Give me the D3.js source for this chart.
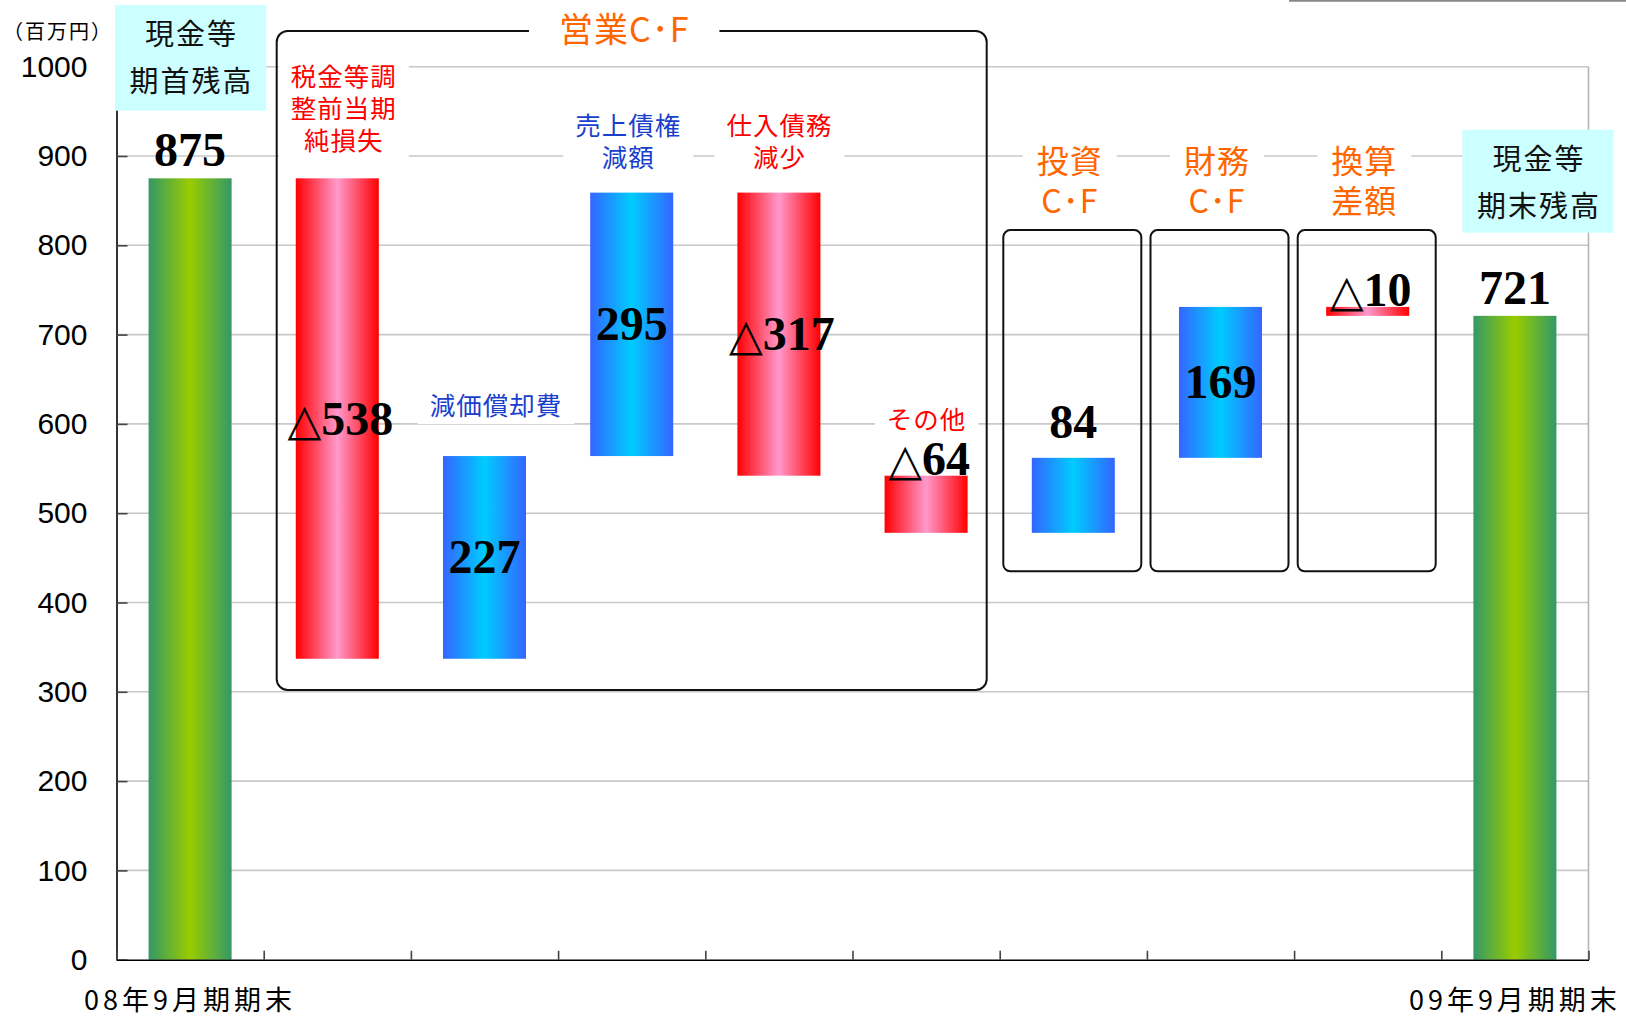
<!DOCTYPE html>
<html>
<head>
<meta charset="utf-8">
<script src="https://cdn.jsdelivr.net/npm/d3@7"></script>
<style>
  body { margin: 0; background: #fff; }
  svg { display: block; }
</style>
</head>
<body>
<svg id="chart"></svg>
<script>
// data (百万円)
const categories = ["08年9月期期末", "税金等調整前当期純損失", "減価償却費", "売上債権減額", "仕入債務減少", "その他", "投資C･F", "財務C･F", "換算差額", "09年9月期期末"];
const openingBalance = 875;
const cashFlows = [-538, 227, 295, -317, -64, 84, 169, -10];
const closingBalance = 721;
const yTicks = [0, 100, 200, 300, 400, 500, 600, 700, 800, 900, 1000];
const xTickLabels = ["08年9月期期末", "", "", "", "", "", "", "", "", "09年9月期期末"];
const itemLabels = [null, ["税金等調", "整前当期", "純損失"], ["減価償却費"], ["売上債権", "減額"], ["仕入債務", "減少"], ["その他"], null, null, null, null];
const operatingTitle = "営業C･F";
const groupTitles = [["投資", "C･F"], ["財務", "C･F"], ["換算", "差額"]];
const groupIndex = [6, 7, 8];
const balanceLabels = [["現金等", "期首残高"], ["現金等", "期末残高"]];

const width = 1626;
const height = 1016;
const marginLeft = 116.5;
const marginRight = 37.5;
const marginTop = 66.7;
const marginBottom = 56.3;

const svg = d3.select("#chart").attr("width", width).attr("height", height);

// build waterfall rows
let running = openingBalance;
const rows = [{ i: 0, y0: 0, y1: openingBalance, value: openingBalance, type: "total" }];
cashFlows.forEach((v, k) => {
    rows.push({ i: k + 1, y0: running, y1: running + v, value: v, type: v < 0 ? "neg" : "pos" });
    running += v;
});
rows.push({ i: 9, y0: 0, y1: closingBalance, value: closingBalance, type: "total" });

const xCat = d3.scaleBand()
    .domain(d3.range(categories.length))
    .range([marginLeft, width - marginRight]);

const x = d3.scaleBand()
    .domain(d3.range(categories.length))
    .range([marginLeft, width - marginRight])
    .paddingInner(0.436)
    .paddingOuter(0.218);

const y = d3.scaleLinear()
    .domain([0, 1000])
    .range([height - marginBottom, marginTop]);

const xEdge = d3.scaleLinear()
    .domain([0, categories.length])
    .range([marginLeft, width - marginRight]);

// gradients
const defs = svg.append("defs");
const grads = {
    total: ["#339966", "#99cc00", "#339966"],
    neg: ["#ff0000", "#ff99cc", "#ff0000"],
    pos: ["#3366ff", "#00ccff", "#3366ff"]
};
Object.entries(grads).forEach(([k, c]) => {
    const g = defs.append("linearGradient").attr("id", "g-" + k)
        .attr("x1", "0%").attr("x2", "100%").attr("y1", "0%").attr("y2", "0%");
    g.selectAll("stop").data(c).join("stop")
        .attr("offset", (d, i) => i / 2)
        .attr("stop-color", d => d);
});

// gridlines + plot frame
svg.append("g")
    .selectAll("line")
    .data(yTicks.filter(d => d > 0))
    .join("line")
    .attr("x1", marginLeft).attr("x2", width - marginRight)
    .attr("y1", d => y(d)).attr("y2", d => y(d))
    .attr("stroke", "#c8c8c8").attr("stroke-width", 1.6);

svg.append("line")
    .attr("x1", width - marginRight).attr("x2", width - marginRight)
    .attr("y1", y(1000)).attr("y2", y(0))
    .attr("stroke", "#b4b4b4").attr("stroke-width", 1.6);

// line at top right edge
svg.append("line")
    .attr("x1", 1289).attr("x2", width).attr("y1", 0.8).attr("y2", 0.8)
    .attr("stroke", "#888").attr("stroke-width", 1.8);

// group boxes
const opBox = { x0: xEdge(1) + 13, x1: xEdge(6) - 13, y0: y(1040), y1: y(302) };
svg.append("rect")
    .attr("x", opBox.x0).attr("y", opBox.y0)
    .attr("width", opBox.x1 - opBox.x0).attr("height", opBox.y1 - opBox.y0)
    .attr("rx", 11).attr("fill", "none").attr("stroke", "#111").attr("stroke-width", 2);

svg.append("g")
    .selectAll("rect")
    .data(groupIndex)
    .join("rect")
    .attr("x", d => xCat(d) + xCat.bandwidth() / 2 - 70)
    .attr("y", y(817))
    .attr("width", 138)
    .attr("height", y(435) - y(817))
    .attr("rx", 7).attr("fill", "none").attr("stroke", "#111").attr("stroke-width", 2);

// bars
svg.append("g")
    .selectAll("rect")
    .data(rows)
    .join("rect")
    .attr("x", d => x(d.i))
    .attr("width", x.bandwidth())
    .attr("y", d => y(Math.max(d.y0, d.y1)))
    .attr("height", d => Math.abs(y(d.y0) - y(d.y1)))
    .attr("fill", d => `url(#g-${d.type})`);

// text with white backing
function backedText(g, lines, cx, lastBaseline, lineH, size, color, ls, padX) {
    const t = g.append("text")
        .attr("text-anchor", "middle")
        .attr("font-family", "'Noto Sans CJK JP', sans-serif")
        .attr("font-size", size)
        .attr("letter-spacing", ls)
        .attr("fill", color);
    lines.forEach((s, k) => {
        t.append("tspan").attr("x", cx + ls / 2)
            .attr("y", lastBaseline - (lines.length - 1 - k) * lineH)
            .text(s);
    });
    const b = t.node().getBBox();
    g.insert("rect", "text")
        .attr("x", b.x - padX).attr("y", b.y - 2)
        .attr("width", b.width + padX * 2).attr("height", b.height + 4)
        .attr("fill", "#fff");
}

// item labels above bars
const labelLift = { 1: 28, 2: 41, 3: 26, 4: 26, 5: 47 };
const labelNudge = { 1: 6, 2: 11, 3: -4 };
const itemG = svg.append("g");
rows.forEach(d => {
    const lines = itemLabels[d.i];
    if (!lines) return;
    const g = itemG.append("g");
    const top = y(Math.max(d.y0, d.y1));
    backedText(g, lines, xCat(d.i) + xCat.bandwidth() / 2 + (labelNudge[d.i] || 0),
        top - (labelLift[d.i] || 28), 32, 25.5, d.type === "neg" ? "#ff0000" : "#1a3fcc", 1, 12);
});

// orange titles
const titleG = svg.append("g");
backedText(titleG.append("g"), [operatingTitle], (opBox.x0 + opBox.x1) / 2 - 8, opBox.y0 + 11, 0, 34, "#ff6600", 1, 30);
groupTitles.forEach((lines, k) => {
    backedText(titleG.append("g"), lines, xCat(groupIndex[k]) + xCat.bandwidth() / 2 - 4,
        y(817) - 17, 40, 32, "#ff6600", 1, 14);
});

// value labels
const valueG = svg.append("g")
    .attr("font-family", "'Liberation Serif', 'Times New Roman', serif")
    .attr("font-weight", "bold")
    .attr("font-size", 48)
    .attr("fill", "#000")
    .attr("text-anchor", "middle");
rows.forEach(d => {
    const top = y(Math.max(d.y0, d.y1));
    const mid = y((d.y0 + d.y1) / 2);
    let base;
    if (d.type === "total") base = top - 12;
    else if (Math.abs(d.value) >= 100) base = mid + 16;
    else if (d.value < 0) base = top - 1;
    else base = top - 20;
    const t = valueG.append("text")
        .attr("x", x(d.i) + x.bandwidth() / 2 + (d.value < 0 ? 3 : 0))
        .attr("y", base);
    if (d.value < 0) {
        t.append("tspan").attr("font-family", "'DejaVu Sans', sans-serif")
            .attr("font-weight", "normal").attr("font-size", 44).text("△");
    }
    t.append("tspan").text(Math.abs(d.value));
});

// axes
svg.append("g")
    .attr("transform", `translate(${marginLeft},0)`)
    .call(d3.axisLeft(y).tickValues(yTicks).tickFormat(d3.format("d"))
        .tickSize(-11).tickPadding(29).tickSizeOuter(0))
    .call(g => g.select(".domain").attr("stroke", "#000").attr("stroke-width", 1.6))
    .call(g => g.selectAll(".tick line").attr("stroke", "#444").attr("stroke-width", 1.6))
    .call(g => g.selectAll(".tick text")
        .attr("font-family", "'Liberation Sans', Arial, sans-serif")
        .attr("font-size", 30).attr("fill", "#000"));

svg.append("g")
    .attr("transform", `translate(0,${y(0)})`)
    .call(d3.axisBottom(xEdge).tickValues(d3.range(categories.length + 1)).tickSize(-9).tickFormat("").tickSizeOuter(0))
    .call(g => g.select(".domain").attr("stroke", "#000").attr("stroke-width", 1.6))
    .call(g => g.selectAll(".tick line").attr("stroke", "#444").attr("stroke-width", 1.6));

svg.append("g")
    .attr("transform", `translate(0,${y(0)})`)
    .call(d3.axisBottom(xCat).tickSize(0).tickPadding(31).tickFormat(i => xTickLabels[i]))
    .call(g => g.select(".domain").remove())
    .call(g => g.selectAll(".tick text")
        .attr("font-family", "'Noto Sans CJK JP', sans-serif")
        .attr("font-size", 27).attr("letter-spacing", 4).attr("fill", "#000"));

// unit label
svg.append("text")
    .attr("x", 58).attr("y", 39)
    .attr("text-anchor", "middle")
    .attr("font-family", "'Noto Sans CJK JP', sans-serif")
    .attr("font-size", 20).attr("letter-spacing", 2).attr("fill", "#000")
    .text("（百万円）");

// balance boxes
const boxes = [
    { i: 0, x0: xEdge(0) - 1.5, x1: xEdge(1) + 2.5, y0: 5, y1: y(1000) + 44 },
    { i: 9, x0: xEdge(9) + 21, x1: xEdge(10) + 25, y0: y(1000) + 63, y1: y(1000) + 166 }
];
boxes.forEach((b, k) => {
    svg.append("rect")
        .attr("x", b.x0).attr("y", b.y0)
        .attr("width", b.x1 - b.x0).attr("height", b.y1 - b.y0)
        .attr("fill", "#ccffff");
    const t = svg.append("text")
        .attr("text-anchor", "middle")
        .attr("font-family", "'Noto Sans CJK JP', sans-serif")
        .attr("font-size", 29).attr("letter-spacing", 2).attr("fill", "#111");
    balanceLabels[k].forEach((s, j) => {
        t.append("tspan").attr("x", (b.x0 + b.x1) / 2 + 1)
            .attr("y", b.y0 + 40 + j * 47).text(s);
    });
});
</script>
</body>
</html>
